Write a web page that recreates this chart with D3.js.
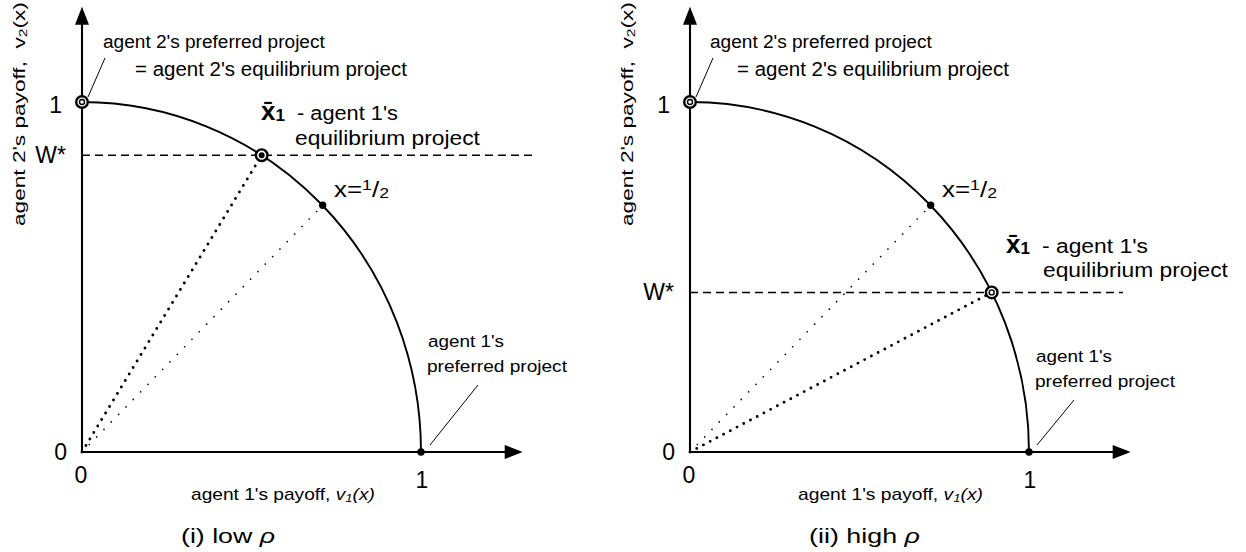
<!DOCTYPE html>
<html>
<head>
<meta charset="utf-8">
<script src="https://cdn.jsdelivr.net/npm/d3@7"></script>
<style>
  body { margin: 0; background: #fff; }
  svg { display: block; font-family: "Liberation Sans", Arial, Helvetica, sans-serif; }
</style>
</head>
<body>
<svg id="chart" width="1246" height="552"></svg>
<script>
// Payoff space of the two agents: frontier v1^2 + v2^2 = 1, shown for a low and a high rho.
const panelNames = ["(i) low", "(ii) high"];
const wStar = [0.848, 0.456];      // W*: agent 2's payoff at agent 1's equilibrium project
const eqV1 = [0.53, 0.89];         // agent 1's payoff at that project
const halfPoint = [0.71, 0.705];   // payoffs (v1, v2) of the project x = 1/2
const pref2 = [0, 1];              // agent 2's preferred project
const pref1 = [1, 0];              // agent 1's preferred project
const axisTicks = [0, 1];

// ---- layout -------------------------------------------------------------
const W = 1246, H = 552;
const oy = 452, unitX = 339, unitY = 350;
const layout = [
  { ox: 82, dashEnd: 1.335,
    top1: [103, 48], top2: [135, 76],
    xbar: [261, 120], xbarA: [297, 120, 101], xbarB: [295, 145, 185],
    half: [334, 197],
    pref1A: [428, 347], pref1B: [427, 372], pref1Leader: [[9, -7], [57, -67]],
    xlabel: [191, 500, 184], caption: [181, 543, 94], ylabel: [25, 226, 224] },
  { ox: 690, dashEnd: 1.277,
    top1: [710, 48], top2: [737, 76],
    xbar: [1006, 253], xbarA: [1042, 253, 106], xbarB: [1043, 277, 185],
    half: [942, 197],
    pref1A: [1036, 362], pref1B: [1035, 387], pref1Leader: [[8, -7], [45, -52]],
    xlabel: [798, 500, 185], caption: [809, 543, 111], ylabel: [633, 226, 224] }
];

const svg = d3.select("#chart");
svg.append("rect").attr("width", W).attr("height", H).attr("fill", "#fff");

// Text placed at (x, y); optionally fitted along its run to a given width.
function label(g, x, y, width, build, rotate) {
  const wrap = g.append("g");
  const t = wrap.append("text").attr("fill", "#000");
  build(t);
  const len = t.node().getComputedTextLength();
  const s = width ? width / len : 1;
  wrap.attr("transform",
    `translate(${x},${y})` + (rotate ? ` rotate(${rotate})` : "") + ` scale(${s},1)`);
  return wrap;
}

function ringMarker(g, cx, cy, solidCore) {
  g.append("circle").attr("cx", cx).attr("cy", cy).attr("r", 5.8)
    .attr("fill", "#fff").attr("stroke", "#000").attr("stroke-width", 2.4);
  g.append("circle").attr("cx", cx).attr("cy", cy).attr("r", solidCore ? 3 : 2.5)
    .attr("fill", solidCore ? "#000" : "#fff").attr("stroke", "#000")
    .attr("stroke-width", solidCore ? 0 : 1.4);
}

panelNames.forEach((name, i) => {
  const L = layout[i];
  const x = d3.scaleLinear().domain([0, 1]).range([L.ox, L.ox + unitX]);
  const y = d3.scaleLinear().domain([0, 1]).range([oy, oy - unitY]);
  const g = svg.append("g");

  // horizontal guide at W*
  g.append("line")
    .attr("x1", x(0)).attr("x2", x(L.dashEnd))
    .attr("y1", y(wStar[i])).attr("y2", y(wStar[i]))
    .attr("stroke", "#000").attr("stroke-width", 1.5).attr("stroke-dasharray", "8,5");

  // ray to the x = 1/2 project (fine dots)
  g.append("line")
    .attr("x1", x(0)).attr("y1", y(0)).attr("x2", x(halfPoint[0])).attr("y2", y(halfPoint[1]))
    .attr("stroke", "#000").attr("stroke-width", 1.7).attr("stroke-linecap", "round")
    .attr("stroke-dasharray", "0,10.5");

  // ray to agent 1's equilibrium project (heavy dots)
  g.append("line")
    .attr("x1", x(0)).attr("y1", y(0)).attr("x2", x(eqV1[i])).attr("y2", y(wStar[i]))
    .attr("stroke", "#000").attr("stroke-width", 2.9).attr("stroke-linecap", "round")
    .attr("stroke-dasharray", "0,7.6");

  // payoff frontier: quarter ellipse through (0,1) and (1,0)
  const rx = x(1) - x(0), ry = y(0) - y(1);
  g.append("path")
    .attr("d", `M${x(pref2[0])},${y(pref2[1])} A${rx},${ry} 0 0 1 ${x(pref1[0])},${y(pref1[1])}`)
    .attr("fill", "none").attr("stroke", "#000").attr("stroke-width", 1.9);

  // axes with arrowheads
  const xTip = x(1.3), yTip = y(1.272);
  g.append("line").attr("x1", x(0)).attr("y1", y(0)).attr("x2", xTip - 14).attr("y2", y(0))
    .attr("stroke", "#000").attr("stroke-width", 2.1);
  g.append("line").attr("x1", x(0)).attr("y1", y(0) + 1).attr("x2", x(0)).attr("y2", yTip + 14)
    .attr("stroke", "#000").attr("stroke-width", 2.1);
  g.append("path").attr("d", `M${xTip},${y(0)} L${xTip - 18},${y(0) - 7} L${xTip - 18},${y(0) + 7} Z`)
    .attr("fill", "#000");
  g.append("path").attr("d", `M${x(0)},${yTip} L${x(0) - 7},${yTip + 18} L${x(0) + 7},${yTip + 18} Z`)
    .attr("fill", "#000");

  // tick labels
  const tickFont = 23;
  axisTicks.forEach(v => {
    g.append("text").attr("x", x(v) + (v ? 1 : -1)).attr("y", v ? 488 : 483)
      .attr("text-anchor", "middle").attr("font-size", tickFont).text(String(v));
  });
  g.append("text").attr("x", x(0) - 15).attr("y", y(0) + 8)
    .attr("text-anchor", "end").attr("font-size", tickFont).text("0");
  g.append("text").attr("x", x(0) - 20).attr("y", y(1) + 11)
    .attr("text-anchor", "end").attr("font-size", tickFont).text("1");
  g.append("text").attr("x", x(0) - 16).attr("y", y(wStar[i]) + 8)
    .attr("text-anchor", "end").attr("font-size", tickFont).text("W*");

  // points
  g.append("circle").attr("cx", x(halfPoint[0])).attr("cy", y(halfPoint[1])).attr("r", 3.7).attr("fill", "#000");
  g.append("circle").attr("cx", x(pref1[0])).attr("cy", y(pref1[1])).attr("r", 3.7).attr("fill", "#000");
  ringMarker(g, x(pref2[0]), y(pref2[1]), false);
  ringMarker(g, x(eqV1[i]), y(wStar[i]), i === 0);

  // leader lines
  g.append("line")
    .attr("x1", x(pref2[0]) + 6).attr("y1", y(pref2[1]) - 5)
    .attr("x2", x(pref2[0]) + 23).attr("y2", y(pref2[1]) - 44)
    .attr("stroke", "#000").attr("stroke-width", 1);
  g.append("line")
    .attr("x1", x(pref1[0]) + L.pref1Leader[0][0]).attr("y1", y(pref1[1]) + L.pref1Leader[0][1])
    .attr("x2", x(pref1[0]) + L.pref1Leader[1][0]).attr("y2", y(pref1[1]) + L.pref1Leader[1][1])
    .attr("stroke", "#000").attr("stroke-width", 1);

  // annotations
  label(g, L.top1[0], L.top1[1], 222, t => t.attr("font-size", 19).text("agent 2's preferred project"));
  label(g, L.top2[0], L.top2[1], 272, t => t.attr("font-size", 20).text("= agent 2's equilibrium project"));

  label(g, L.xbar[0], L.xbar[1], 0, t => {
    t.attr("font-size", 26).attr("font-weight", "bold").text("x\u0304");
    t.append("tspan").attr("font-size", 17).attr("dy", 1).text("1");
  });
  label(g, L.xbarA[0], L.xbarA[1], L.xbarA[2], t => t.attr("font-size", 21).text("- agent 1's"));
  label(g, L.xbarB[0], L.xbarB[1], L.xbarB[2], t => t.attr("font-size", 21).text("equilibrium project"));

  label(g, L.half[0], L.half[1], 55, t => {
    t.attr("font-size", 22).text("x=");
    t.append("tspan").attr("font-size", 15).attr("dy", -7).text("1");
    t.append("tspan").attr("font-size", 22).attr("dy", 7).text("/");
    t.append("tspan").attr("font-size", 15).attr("dy", 1).text("2");
  });

  label(g, L.pref1A[0], L.pref1A[1], 76, t => t.attr("font-size", 17).text("agent 1's"));
  label(g, L.pref1B[0], L.pref1B[1], 140, t => t.attr("font-size", 17).text("preferred project"));

  // axis titles
  label(g, L.xlabel[0], L.xlabel[1], L.xlabel[2], t => {
    t.attr("font-size", 16).text("agent 1's payoff, ");
    t.append("tspan").attr("font-style", "italic").text("v");
    t.append("tspan").attr("font-style", "italic").attr("font-size", 11).attr("dy", 2).text("1");
    t.append("tspan").attr("font-style", "italic").attr("dy", -2).text("(x)");
  });
  label(g, L.ylabel[0], L.ylabel[1], L.ylabel[2], t => {
    t.attr("font-size", 16).attr("xml:space", "preserve").text("agent 2's payoff,  v");
    t.append("tspan").attr("font-size", 11).attr("dy", 2).text("2");
    t.append("tspan").attr("dy", -2).text("(x)");
  }, -90);

  // panel caption
  label(g, L.caption[0], L.caption[1], L.caption[2], t => {
    t.attr("font-size", 21).text(name + " ");
    t.append("tspan").attr("font-style", "italic").text("\u03C1");
  });
});
</script>
</body>
</html>
